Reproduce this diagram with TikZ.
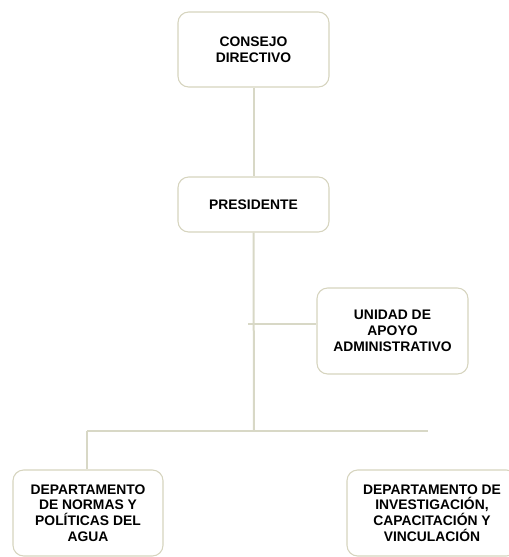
\documentclass[tikz,border=0pt]{standalone}
\usepackage{fontspec}
\setmainfont{Liberation Sans}
\definecolor{linec}{RGB}{216,216,198}
\definecolor{boxc}{RGB}{214,212,190}
\begin{document}
\begin{tikzpicture}[x=0.75pt,y=-0.75pt,
  orgbox/.style={draw=boxc, line width=0.8pt, rounded corners=8pt, fill=white,
    align=center, inner sep=0pt, font=\bfseries\fontsize{10.4}{11.8}\selectfont,
    text=black},
  conn/.style={draw=linec, line width=1.5pt}]
\useasboundingbox (0,0) rectangle (508,557);
\node[orgbox, minimum width=113.25pt, minimum height=56.25pt] (consejo) at (253.5,49.5) {CONSEJO\\DIRECTIVO};
\node[orgbox, minimum width=113.25pt, minimum height=41.25pt] (pres) at (253.5,204.5) {PRESIDENTE};
\node[orgbox, minimum width=113.25pt, minimum height=64.5pt] (unidad) at (392.5,331) {UNIDAD DE\\APOYO\\ADMINISTRATIVO};
\node[orgbox, minimum width=112.5pt, minimum height=64.5pt] (dnorm) at (88,513) {DEPARTAMENTO\\DE NORMAS Y\\POLÍTICAS DEL\\AGUA};
\node[orgbox, minimum width=127.5pt, minimum height=64.5pt] (dinv) at (432,513) {DEPARTAMENTO DE\\INVESTIGACIÓN,\\CAPACITACIÓN Y\\VINCULACIÓN};
\coordinate (tb) at (254,431);
\coordinate (hl) at (87,431);
\coordinate (hr) at (428,431);
\coordinate (ul) at (248,324);
\draw[conn] (consejo.south) -- (pres.north);
\draw[conn] (pres.south) -- (tb);
\draw[conn] (hl) -- (hr);
\draw[conn] (hl) -- (dnorm.north -| hl);
\draw[conn] (ul) -- (ul -| unidad.west);
\end{tikzpicture}
\end{document}
